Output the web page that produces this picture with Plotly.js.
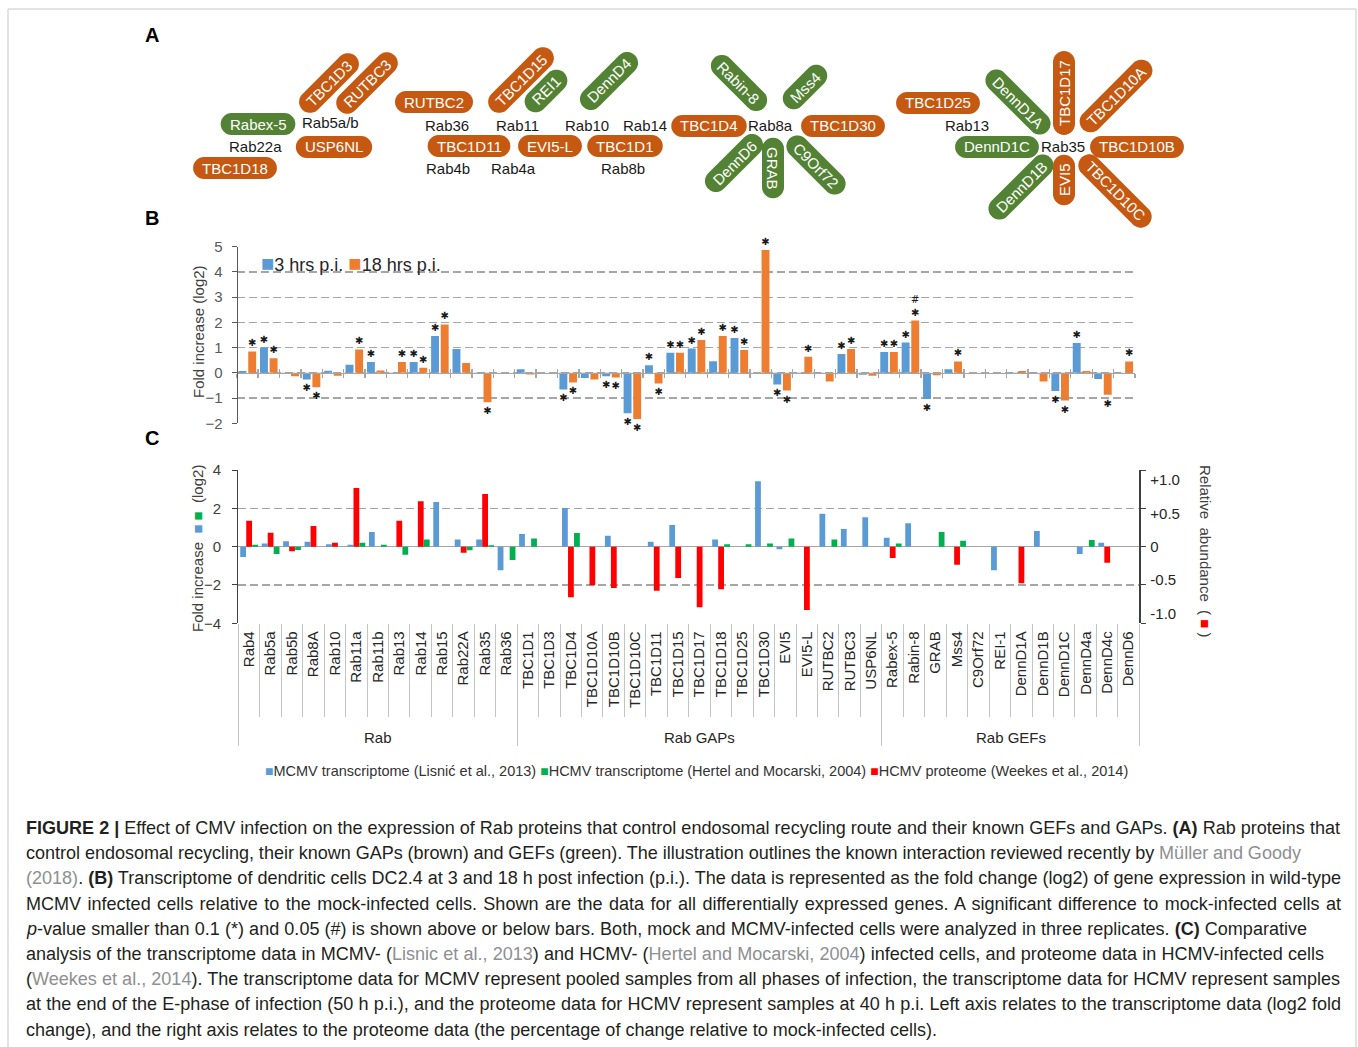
<!DOCTYPE html>
<html><head><meta charset="utf-8">
<script src="https://cdn.plot.ly/plotly-3.0.1.min.js"></script>
<style>html,body{margin:0;padding:0;overflow:hidden;background:#fff}#chart{width:1358px;height:1047px}</style>
</head><body><div id="chart"></div>
<script>
const W = 1358, H = 1047;
const FONT = '"Liberation Sans", Arial, Helvetica, sans-serif';

// ---------- data ----------
const categories = ['Rab4','Rab5a','Rab5b','Rab8A','Rab10','Rab11a','Rab11b','Rab13','Rab14','Rab15','Rab22A','Rab35','Rab36',
  'TBC1D1','TBC1D3','TBC1D4','TBC1D10A','TBC1D10B','TBC1D10C','TBC1D11','TBC1D15','TBC1D17','TBC1D18','TBC1D25','TBC1D30','EVI5','EVI5-L','RUTBC2','RUTBC3','USP6NL',
  'Rabex-5','Rabin-8','GRAB','Mss4','C9Orf72','REI-1','DennD1A','DennD1B','DennD1C','DennD4a','DennD4c','DennD6'];
const groupNames = ['Rab','Rab GAPs','Rab GEFs'];
const groupSizes = [13, 17, 12];

// Panel B: fold increase (log2), dendritic cells
const seriesNamesB = ['3 hrs p.i.', '18 hrs p.i.'];
const fold3h = [0.07,1.0,-0.04,-0.26,0.08,0.32,0.43,-0.05,0.43,1.46,0.95,-0.04,null,
  0.14,null,-0.66,-0.2,-0.14,-1.6,0.3,0.8,0.96,0.46,1.38,null,-0.46,-0.04,-0.04,0.75,-0.08,
  0.83,1.2,-1.04,0.14,null,null,-0.04,-0.03,-0.72,1.18,-0.24,-0.03];
const fold18h = [0.85,0.58,-0.14,-0.57,-0.12,0.93,0.09,0.43,0.2,1.92,0.39,-1.17,null,
  -0.07,null,-0.38,-0.26,-0.18,-1.83,-0.42,0.8,1.3,1.46,0.91,4.87,-0.7,0.64,-0.34,0.95,-0.12,
  0.83,2.07,-0.1,0.45,null,null,0.07,-0.34,-1.1,0.07,-0.87,0.45];
const sig3h = ['','*','','*','','','*','','*','*','','','',
  '','','*','','*','*','*','*','*','','*','','*','','','*','',
  '*','*','*','','','','','','*','*','',''];
const sig18h = ['*','*','','*','','*','','*','*','*','','*','',
  '','','*','','*','*','*','*','*','*','*','*','*','*','','*','',
  '*','#*','','*','','','','','*','','*','*'];

// Panel C
const seriesNamesC = ['MCMV transcriptome (Lisnić et al., 2013)', 'HCMV transcriptome (Hertel and Mocarski, 2004)', 'HCMV proteome (Weekes et al., 2014)'];
const mcmvTranscriptome = [-0.54,0.16,0.28,0.26,0.12,0.1,0.77,null,null,2.33,0.37,0.37,-1.23,
  0.66,null,2.02,null,0.57,null,0.26,1.13,null,0.37,null,3.41,-0.14,null,1.72,0.92,1.53,
  0.47,1.22,null,null,null,-1.23,null,0.82,null,-0.38,0.21,null];
const hcmvTranscriptome = [0.1,-0.38,-0.17,null,null,0.21,0.1,-0.42,0.37,null,-0.19,0.07,-0.7,
  0.42,null,0.71,null,null,null,null,null,null,0.12,0.12,0.16,0.42,null,0.37,null,null,
  0.16,null,0.77,0.31,null,null,null,null,null,0.35,null,null];
const hcmvProteome = [0.39,0.21,-0.07,0.31,0.06,0.88,null,0.39,0.68,null,-0.09,0.79,null,
  null,null,-0.76,-0.58,-0.62,null,-0.66,-0.47,-0.91,-0.64,null,null,null,-0.95,null,null,null,
  -0.17,null,null,-0.27,null,null,-0.55,null,null,null,-0.24,null];

const yTicksB = [-2,-1,0,1,2,3,4,5];
const yTicksC = [-4,-2,0,2,4];
const yTicksRight = [-1,-0.5,0,0.5,1];
const yTicksRightText = ['-1.0','-0.5','0','+0.5','+1.0'];

// ---------- helpers ----------
const px = x => x / W;
const py = y => 1 - y / H;
const n = categories.length;
const innerBounds = Array.from({length: n + 1}, (_, i) => i - 0.5);
const groupBounds = [-0.5];
groupSizes.forEach(s => groupBounds.push(groupBounds[groupBounds.length - 1] + s));
const groupCenters = groupSizes.map((s, i) => groupBounds[i] + s / 2);
const starText = s => s === '*' ? '✱' : (s === '#*' ? '#<br>✱' : '');

const xB = [px(236.7), px(1135)];
const yB = [py(423.3), py(246.7)];
const xC = [px(238.3), px(1139.3)];
const yC = [py(623.3), py(470)];
const zeroB = yB[0] + (0 - (-2)) / 7 * (yB[1] - yB[0]);

const blue = '#5b9bd5', orange = '#ed7d31', green = '#00b050', red = '#ff0000';
const gridCol = '#a6a6a6';
const NB = '\u00a0';

// ---------- traces ----------
const starFont = {family:'"DejaVu Sans", sans-serif', size:10, color:'#1a1a1a'};
const traces = [
  {type:'bar', name:seriesNamesB[0], x:categories, y:fold3h, xaxis:'x', yaxis:'y', showlegend:false,
   marker:{color:blue, line:{width:0}}, width:0.37, offset:-0.41,
   text:sig3h.map(starText), textposition:'outside', constraintext:'none', cliponaxis:false, textfont:starFont},
  {type:'bar', name:seriesNamesB[1], x:categories, y:fold18h, xaxis:'x', yaxis:'y', showlegend:false,
   marker:{color:orange, line:{width:0}}, width:0.37, offset:0.04,
   text:sig18h.map(starText), textposition:'outside', constraintext:'none', cliponaxis:false, textfont:starFont},
  {type:'bar', name:seriesNamesC[0], x:categories, y:mcmvTranscriptome, xaxis:'x2', yaxis:'y2', showlegend:false,
   marker:{color:blue, line:{width:0}}, width:0.27, offset:-0.41, cliponaxis:false},
  {type:'bar', name:seriesNamesC[1], x:categories, y:hcmvTranscriptome, xaxis:'x2', yaxis:'y2', showlegend:false,
   marker:{color:green, line:{width:0}}, width:0.27, offset:0.15, cliponaxis:false},
  {type:'bar', name:seriesNamesC[2], x:categories, y:hcmvProteome, xaxis:'x2', yaxis:'y3', showlegend:false,
   marker:{color:red, line:{width:0}}, width:0.27, offset:-0.13, cliponaxis:false},
  {type:'scatter', x:[], y:[], xaxis:'x3', yaxis:'y', showlegend:false, hoverinfo:'skip'},
  {type:'scatter', x:[], y:[], xaxis:'x4', yaxis:'y2', showlegend:false, hoverinfo:'skip'},
  {type:'scatter', x:[], y:[], xaxis:'x5', yaxis:'y2', showlegend:false, hoverinfo:'skip'}
];

// ---------- panel A illustration ----------
const GAP_COL = '#c65911', GEF_COL = '#548235';
const pills = [
  ['TBC1D3','o',329,83,-45], ['RUTBC3','o',367,83,-45], ['Rabex-5','g',258,124,0], ['USP6NL','o',334,147,0],
  ['TBC1D18','o',235,168,0], ['RUTBC2','o',434,102,0], ['TBC1D15','o',521,80,-45], ['REI1','g',546,91,-45],
  ['DennD4','g',609,81,-45], ['TBC1D11','o',469,146,0], ['EVI5-L','o',550,146,0], ['TBC1D1','o',625,146,0],
  ['TBC1D4','o',709,126,0], ['TBC1D30','o',843,126,0], ['Rabin-8','g',739,83,45], ['Mss4','g',805,87,-45],
  ['DennD6','g',734,163,-45], ['GRAB','g',773,168,90], ['C9Orf72','g',816,165,45], ['TBC1D25','o',938,103,0],
  ['DennD1A','g',1018,102,45], ['TBC1D17','o',1064,93,-90], ['TBC1D10A','o',1116,96,-45], ['DennD1C','g',997,147,0],
  ['TBC1D10B','o',1137,147,0], ['DennD1B','g',1021,187,-45], ['EVI5','o',1064,180,-90], ['TBC1D10C','o',1115,191,45]
];
const rabLabels = [['Rab5a/b',330,123],['Rab22a',255,147],['Rab36',447,125],['Rab11',517,125],['Rab10',587,125],
  ['Rab14',645,125],['Rab4b',448,168],['Rab4a',513,168],['Rab8b',623,168],['Rab8a',770,126],['Rab13',967,125],['Rab35',1063,147]];

const ctx = document.createElement('canvas').getContext('2d');
ctx.font = '15px "Liberation Sans", Arial';
function pillPath(cx, cy, L, T, ang){
  const t = ang*Math.PI/180, ux = Math.cos(t), uy = Math.sin(t), nx = -uy, ny = ux;
  const r = T/2, a = Math.max(L/2 - r, 0), pts = [];
  for (let k=0;k<=14;k++){const f=-Math.PI/2+Math.PI*k/14; pts.push([cx+a*ux+r*(Math.cos(f)*ux+Math.sin(f)*nx), cy+a*uy+r*(Math.cos(f)*uy+Math.sin(f)*ny)]);}
  for (let k=0;k<=14;k++){const f=Math.PI/2+Math.PI*k/14; pts.push([cx-a*ux+r*(Math.cos(f)*ux+Math.sin(f)*nx), cy-a*uy+r*(Math.cos(f)*uy+Math.sin(f)*ny)]);}
  return 'M' + pts.map(p => px(p[0]).toFixed(5)+','+py(p[1]).toFixed(5)).join('L') + 'Z';
}

const shapes = [];
const annotations = [];
pills.forEach(([txt, c, cx, cy, ang]) => {
  const L = ctx.measureText(txt).width + 18;
  shapes.push({type:'path', xref:'paper', yref:'paper', path:pillPath(cx, cy, L, 22, ang),
    fillcolor: c === 'o' ? GAP_COL : GEF_COL, line:{width:0}, layer:'below'});
  annotations.push({xref:'paper', yref:'paper', x:px(cx), y:py(cy), text:txt, showarrow:false, textangle:ang,
    xanchor:'center', yanchor:'middle', font:{family:FONT, size:15, color:'#ffffff'}});
});
rabLabels.forEach(([txt, cx, cy]) => annotations.push({xref:'paper', yref:'paper', x:px(cx), y:py(cy), text:txt,
  showarrow:false, xanchor:'center', yanchor:'middle', font:{family:FONT, size:15, color:'#1a1a1a'}}));

// outer frame
shapes.push({type:'rect', xref:'paper', yref:'paper', x0:px(8), x1:px(1356), y0:-0.02, y1:py(9),
  line:{color:'#c9c9c9', width:1}, fillcolor:'rgba(0,0,0,0)', layer:'below'});

// panel letters
[['A',35],['B',218],['C',438]].forEach(([l, y]) => annotations.push({xref:'paper', yref:'paper', x:px(152), y:py(y),
  text:'<b>'+l+'</b>', showarrow:false, xanchor:'center', yanchor:'middle', font:{family:FONT, size:20, color:'#000'}}));

// legends (as text keyed to the series colours)
const sq = (c, s) => '<span style="color:' + c + ';font-size:' + s + 'px">■</span>';
annotations.push({xref:'paper', yref:'paper', x:px(259), y:py(263), xanchor:'left', yanchor:'middle', showarrow:false,
  text: sq(blue, 22) + seriesNamesB[0] + NB + sq(orange, 22) + seriesNamesB[1],
  font:{family:FONT, size:18, color:'#262626'}});
annotations.push({xref:'paper', yref:'paper', x:px(697), y:py(771), xanchor:'center', yanchor:'middle', showarrow:false,
  text: sq(blue, 14) + seriesNamesC[0] + NB + sq(green, 14) + seriesNamesC[1] + NB + sq(red, 14) + seriesNamesC[2],
  font:{family:FONT, size:14.5, color:'#333333'}});

// axis titles
annotations.push({xref:'paper', yref:'paper', x:px(198), y:py(332), text:'Fold increase (log2)', textangle:-90,
  showarrow:false, xanchor:'center', yanchor:'middle', font:{family:FONT, size:15, color:'#404040'}});
annotations.push({xref:'paper', yref:'paper', x:px(197), y:py(549),
  text:'Fold increase  <span style="color:'+blue+'">■</span> <span style="color:'+green+'">■</span>  (log2)', textangle:-90,
  showarrow:false, xanchor:'center', yanchor:'middle', font:{family:FONT, size:15, color:'#404040'}});
annotations.push({xref:'paper', yref:'paper', x:px(1206), y:py(551),
  text:'Relative  abundance  ( <span style="color:'+red+'">■</span> )', textangle:90,
  showarrow:false, xanchor:'center', yanchor:'middle', font:{family:FONT, size:15, color:'#404040'}});

// group labels
groupNames.forEach((g, i) => annotations.push({xref:'x2', yref:'paper', x:groupCenters[i], y:py(737), text:g,
  showarrow:false, xanchor:'center', yanchor:'middle', font:{family:FONT, size:15, color:'#262626'}}));

// caption
const Gr = s => '<span style="color:#8d8f91">' + s + '</span>';
const captionLines = [
  '<b>FIGURE 2 |</b> Effect of CMV infection on the expression of Rab proteins that control endosomal recycling route and their known GEFs and GAPs. <b>(A)</b> Rab proteins that',
  'control endosomal recycling, their known GAPs (brown) and GEFs (green). The illustration outlines the known interaction reviewed recently by ' + Gr('Müller and Goody'),
  Gr('(2018)') + '. <b>(B)</b> Transcriptome of dendritic cells DC2.4 at 3 and 18 h post infection (p.i.). The data is represented as the fold change (log2) of gene expression in wild-type',
  'MCMV infected cells relative to the mock-infected cells. Shown are the data for all differentially expressed genes. A significant difference to mock-infected cells at',
  '<i>p</i>-value smaller than 0.1 (*) and 0.05 (#) is shown above or below bars. Both, mock and MCMV-infected cells were analyzed in three replicates. <b>(C)</b> Comparative',
  'analysis of the transcriptome data in MCMV- (' + Gr('Lisnic et al., 2013') + ') and HCMV- (' + Gr('Hertel and Mocarski, 2004') + ') infected cells, and proteome data in HCMV-infected cells',
  '(' + Gr('Weekes et al., 2014') + '). The transcriptome data for MCMV represent pooled samples from all phases of infection, the transcriptome data for HCMV represent samples',
  'at the end of the E-phase of infection (50 h p.i.), and the proteome data for HCMV represent samples at 40 h p.i. Left axis relates to the transcriptome data (log2 fold',
  'change), and the right axis relates to the proteome data (the percentage of change relative to mock-infected cells).'
];
const captionRight = [1339,1300,1340,1340,1306,1323,1339,1340,937];
ctx.font = '17px "Liberation Sans", Arial';
const lastW = ctx.measureText(captionLines[8]).width;
const capSize = Math.max(15, Math.min(19, 17 * (937 - 25) / lastW));
const captionStart = annotations.length;
captionLines.forEach((t, i) => annotations.push({xref:'paper', yref:'paper', x:px(25), y:py(828 + 25.2*i), text:t,
  showarrow:false, xanchor:'left', yanchor:'middle', align:'left', borderpad:0, font:{family:FONT, size:capSize, color:'#231f20'}}));

// ---------- layout ----------
const layout = {
  width: W, height: H, margin:{l:0, r:0, t:0, b:0, pad:0, autoexpand:false},
  paper_bgcolor:'#ffffff', plot_bgcolor:'rgba(0,0,0,0)', font:{family:FONT, color:'#262626'},
  showlegend:false, barmode:'overlay',
  xaxis:{domain:xB, type:'category', categoryorder:'array', categoryarray:categories, range:[-0.5, n-0.5],
    anchor:'free', position:zeroB, showline:true, linecolor:'#a6a6a6', linewidth:1.5,
    ticks:'outside', tickson:'boundaries', ticklen:4, tickwidth:1.3, tickcolor:'#a6a6a6',
    showticklabels:false, showgrid:false, zeroline:false, fixedrange:true},
  xaxis3:{overlaying:'x', type:'linear', range:[-0.5, n-0.5], anchor:'free', position:zeroB,
    tickmode:'array', tickvals:innerBounds, ticks:'inside', ticklen:4, tickwidth:1.3, tickcolor:'#a6a6a6',
    showticklabels:false, showgrid:false, showline:false, zeroline:false, fixedrange:true},
  yaxis:{domain:yB, range:[-2, 5], anchor:'free', position:xB[0], tickmode:'array', tickvals:yTicksB,
    ticks:'outside', ticklen:5, tickcolor:'#595959', showline:true, linecolor:'#595959', linewidth:1.3,
    showgrid:true, gridcolor:gridCol, gridwidth:1.3, griddash:'8px,4px', zeroline:false,
    tickfont:{size:15, color:'#595959'}, ticklabelstandoff:6, fixedrange:true},
  xaxis2:{domain:xC, type:'category', categoryorder:'array', categoryarray:categories, range:[-0.5, n-0.5],
    anchor:'y2', showline:false, ticks:'', tickangle:-90, tickfont:{size:15, color:'#262626'},
    showgrid:false, zeroline:false, ticklabelstandoff:4, fixedrange:true},
  xaxis4:{overlaying:'x2', type:'linear', range:[-0.5, n-0.5], anchor:'y2', tickmode:'array', tickvals:innerBounds,
    ticks:'outside', ticklen:93, tickwidth:1, tickcolor:'#c4c4c4', showticklabels:false, showgrid:false,
    showline:false, zeroline:false, fixedrange:true},
  xaxis5:{overlaying:'x2', type:'linear', range:[-0.5, n-0.5], anchor:'y2', tickmode:'array', tickvals:groupBounds,
    ticks:'outside', ticklen:122, tickwidth:1, tickcolor:'#c4c4c4', showticklabels:false, showgrid:false,
    showline:false, zeroline:false, fixedrange:true},
  yaxis2:{domain:yC, range:[-4, 4], anchor:'x2', tickmode:'array', tickvals:yTicksC,
    ticks:'outside', ticklen:5, tickcolor:'#404040', showline:true, linecolor:'#404040', linewidth:1.3, mirror:'ticks',
    showgrid:true, gridcolor:gridCol, gridwidth:1.3, griddash:'8px,4px',
    zeroline:true, zerolinecolor:'#a6a6a6', zerolinewidth:1.5,
    tickfont:{size:15, color:'#404040'}, ticklabelstandoff:8, fixedrange:true},
  yaxis3:{overlaying:'y2', side:'right', anchor:'x2', range:[-1.15, 1.15], tickmode:'array',
    tickvals:yTicksRight, ticktext:yTicksRightText, ticks:'', showline:false, showgrid:false, zeroline:false,
    tickfont:{size:15, color:'#262626'}, ticklabelstandoff:10, fixedrange:true},
  shapes, annotations
};

Plotly.newPlot('chart', traces, layout, {displayModeBar:false, staticPlot:true}).then(gd => {
  try {
    captionLines.forEach((t, i) => {
      if (i === captionLines.length - 1) return;
      const g = gd.querySelector('.annotation[data-index="' + (captionStart + i) + '"] text.annotation-text');
      if (!g) return;
      const bb = g.getBBox();
      const spaces = (g.textContent.match(/ /g) || []).length;
      const target = captionRight[i] - 25;
      if (spaces > 0) g.style.wordSpacing = ((target - bb.width) / spaces).toFixed(3) + 'px';
    });
  } catch (e) {}
});
</script>
</body></html>
